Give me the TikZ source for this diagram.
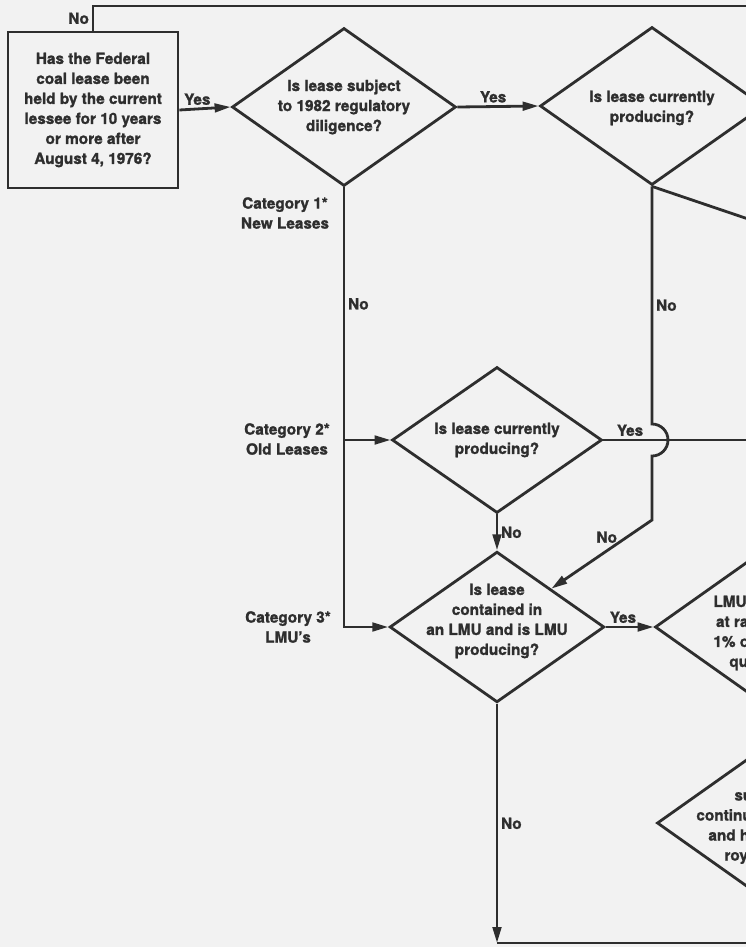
\documentclass[tikz,border=0pt]{standalone}
\usepackage{fontspec}
\setmainfont{TeX Gyre Heros}[BoldFeatures={FakeBold=1.3}]
\usetikzlibrary{arrows.meta,shapes.geometric}

\begin{document}
\begin{tikzpicture}[x=0.75pt, y=-0.75pt, line width=2.1pt, color=black!82,
  font=\fontsize{11.5}{15}\selectfont\bfseries,
  txt/.style={align=center, inner sep=0pt},
  lbl/.style={inner sep=2pt},
  q/.style={draw, diamond, inner sep=0pt},
  >={Triangle[length=12pt, width=6.5pt]}]
\useasboundingbox (0,0) rectangle (746,947);
\fill[black!5] (0,0) rectangle (746,947);
\clip (0,0) rectangle (746,947);
\node[draw, txt, minimum width=127.5pt, minimum height=117pt] (start) at (93,110)
  {Has the Federal\\coal lease been\\held by the current\\lessee for 10 years\\or more after\\August 4, 1976?};
\node[q, minimum width=168pt, minimum height=118.5pt] (q1) at (344,107) {};
\node[txt] (q1t) at (q1) {Is lease subject\\to 1982 regulatory\\diligence?};
\node[q, minimum width=168pt, minimum height=118.5pt] (q2) at (652,106) {};
\node[txt] (q2t) at (652,108) {Is lease currently\\producing?};
\node[q, minimum width=157.5pt, minimum height=109.5pt] (q3) at (497,440) {};
\node[txt] (q3t) at (q3) {Is lease currently\\producing?};
\node[q, minimum width=161pt, minimum height=113pt] (q4) at (497,627) {};
\node[txt] (q4t) at (497,621) {Is lease\\contained in\\an LMU and is LMU\\producing?};
\node[q, minimum width=165pt, minimum height=117pt] (q5) at (765,627) {};
\node[txt, align=left, anchor=west] (q5t) at (712,633) {LMU\\\hspace*{2pt}at ra\\1\% o\\\hspace*{12pt}qu};
\node[q, minimum width=165pt, minimum height=117pt] (q6) at (767,823) {};
\node[txt, align=left, anchor=west] (q6t) at (695,828) {\hspace*{28.5pt}su\\continu\\\hspace*{9pt}and h\\\hspace*{21pt}roy};
\node[txt] (cat1) at (285,213) {Category 1*\\New Leases};
\node[txt] (cat2) at (287,439) {Category 2*\\Old Leases};
\node[txt] (cat3) at (288,627) {Category 3*\\LMU’s};
\coordinate (topR) at (760,6);
\coordinate (offB) at (760,223);
\coordinate (botR) at (760,943);
\coordinate (jmp) at (q2.south |- q3.east);
\draw (start.north) -- node[lbl, left] (n1) {No} (start.north |- topR) -- (topR);
\draw[->] (start.east) -- node[lbl, above, pos=.35] (y1) {Yes} (q1.west);
\draw[->] (q1.east) -- node[lbl, above, pos=.44] (y2) {Yes} (q2.west);
\draw[->] (q1.south) -- node[lbl, right, pos=.265] (n2) {No} (q1.south |- q4.west) -- (q4.west);
\draw[->] (q1.south |- q3.west) -- (q3.west);
\draw (q2.south) -- (offB);
\draw (q3.east) -- node[lbl, above, pos=.17] (y3) {Yes} (q3.east -| topR);
\draw[->] (q2.south) -- node[lbl, right] (n3) {No} ([yshift=12pt]jmp)
  arc[start angle=-90, end angle=90, radius=16] -- ++(0,64)
  -- node[lbl, above=3pt, pos=.45] (n5) {No} (q4.north east);
\draw[->] (q3.south) -- node[lbl, right] (n4) {No} (q4.north);
\draw[->] (q4.east) -- node[lbl, above, pos=.36] (y4) {Yes} (q5.west);
\draw[->] (q4.south) -- node[lbl, right] (n6) {No} (q4.south |- botR);
\draw (q4.south |- botR) -- (botR);
\end{tikzpicture}
\end{document}
